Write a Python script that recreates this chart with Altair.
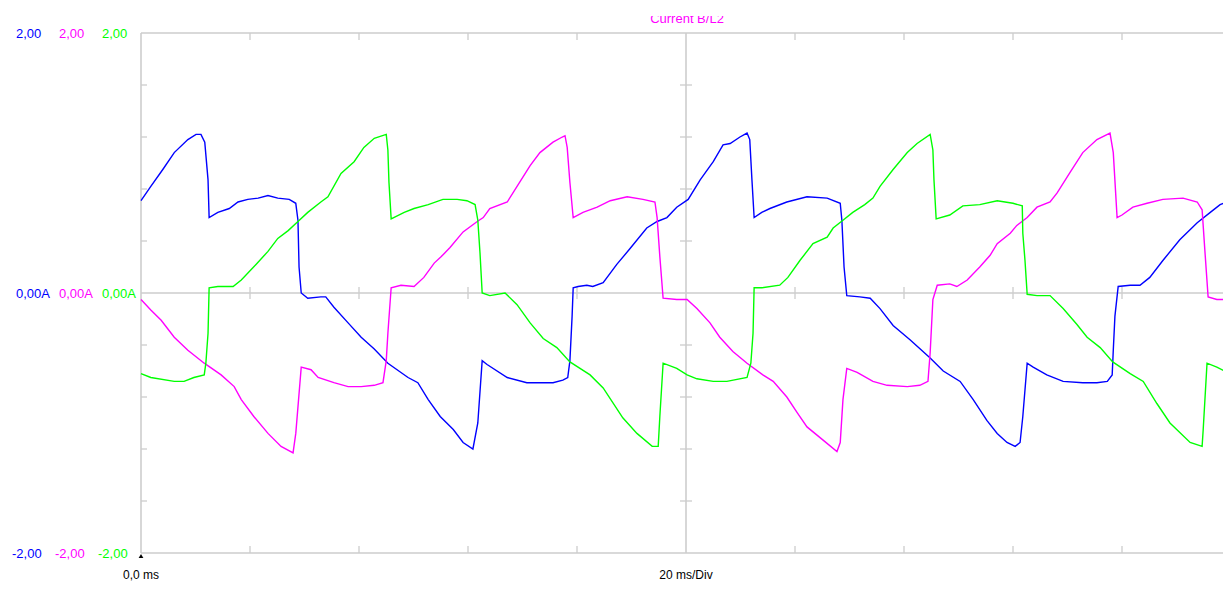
import altair as alt
import pandas as pd

# ---------------- data (time in ms, current in A) ----------------
blue_t = [0.0, 1.8, 4.0, 6.1, 8.6, 10.1, 11.0, 11.7, 12.3, 12.5, 14.1, 16.2, 17.8, 19.6, 21.5, 23.3,
          25.1, 27.2, 28.4, 28.8, 29.0, 29.4, 30.6, 33.0, 33.9, 35.4, 38.0, 40.4, 42.8, 45.3, 49.0,
          50.8, 52.7, 54.9, 57.3, 59.1, 60.9, 61.8, 62.6, 63.5, 67.2, 70.8, 75.6, 77.4, 78.3, 78.7,
          79.1, 79.3, 80.2, 81.8, 82.9, 84.8, 87.3, 89.7, 92.8, 94.7, 96.5, 98.3, 100.4, 102.6,
          105.0, 106.8, 108.1, 109.9, 111.2, 111.7, 112.1, 112.5, 113.9, 115.4, 118.5, 122.2, 125.9,
          128.3, 128.6, 129.0, 129.5, 131.9, 133.8, 135.6, 138.0, 141.1, 144.8, 147.2, 150.3, 152.7,
          155.2, 157.1, 158.9, 160.4, 161.3, 161.8, 162.6, 163.7, 166.2, 169.2, 172.8, 175.4, 177.3,
          178.2, 178.4, 178.7, 179.3, 181.5, 183.3, 185.1, 187.5, 190.6, 193.8, 196.2, 198.0, 199.3]
blue_v = [0.71, 0.82, 0.95, 1.08, 1.18, 1.22, 1.22, 1.16, 0.87, 0.58, 0.62, 0.65, 0.70, 0.72, 0.73, 0.75,
          0.73, 0.72, 0.69, 0.56, 0.20, 0.00, -0.04, -0.03, -0.03, -0.11, -0.23, -0.34, -0.43, -0.54, -0.65,
          -0.69, -0.82, -0.95, -1.05, -1.15, -1.20, -1.00, -0.52, -0.55, -0.65, -0.69, -0.69, -0.67, -0.65, -0.52,
          -0.18, 0.04, 0.05, 0.06, 0.05, 0.08, 0.22, 0.34, 0.50, 0.55, 0.58, 0.66, 0.72, 0.87,
          1.01, 1.14, 1.15, 1.20, 1.23, 1.18, 0.87, 0.58, 0.62, 0.65, 0.70, 0.74, 0.73,
          0.69, 0.56, 0.20, -0.02, -0.03, -0.04, -0.12, -0.25, -0.36, -0.50, -0.60, -0.68, -0.82,
          -0.98, -1.08, -1.15, -1.18, -1.15, -0.95, -0.54, -0.57, -0.63, -0.68, -0.69, -0.69, -0.68,
          -0.63, -0.44, -0.18, 0.05, 0.06, 0.06, 0.12, 0.25, 0.41, 0.54, 0.62, 0.68, 0.70]

magenta_t = [0.0, 1.8, 3.7, 6.1, 8.6, 11.6, 14.7, 17.1, 18.4, 20.7, 23.3, 25.7, 27.9, 28.4, 29.4, 31.2,
             32.5, 35.4, 38.0, 40.4, 42.8, 44.4, 45.0, 45.3, 45.9, 47.7, 50.1, 51.9, 53.8, 55.1, 56.7,
             59.1, 61.7, 62.8, 64.0, 67.2, 69.0, 71.4, 73.2, 75.6, 77.3, 77.8, 78.2, 78.7, 79.3, 81.1,
             83.7, 86.1, 89.2, 92.1, 94.3, 94.7, 95.2, 95.8, 98.3, 100.2, 102.0, 104.4, 106.2, 108.6,
             111.2, 114.1, 116.0, 118.5, 120.4, 122.2, 125.1, 127.7, 128.3, 128.8, 129.5, 131.4, 134.3,
             136.9, 140.6, 142.9, 144.4, 144.8, 145.3, 146.1, 148.4, 149.7, 151.6, 153.9, 155.8, 157.1,
             159.5, 160.7, 162.6, 164.4, 166.8, 168.1, 170.5, 172.8, 175.4, 177.8, 178.4, 179.1, 180.0,
             182.0, 184.6, 187.5, 191.2, 193.8, 194.7, 195.2, 195.8, 197.4, 199.3]
magenta_v = [-0.05, -0.13, -0.21, -0.34, -0.44, -0.54, -0.63, -0.72, -0.82, -0.95, -1.08, -1.18, -1.23, -1.08, -0.57, -0.59,
             -0.65, -0.69, -0.72, -0.72, -0.71, -0.69, -0.52, -0.31, 0.04, 0.06, 0.05, 0.12, 0.23, 0.28, 0.35,
             0.47, 0.55, 0.58, 0.65, 0.70, 0.82, 0.98, 1.08, 1.16, 1.20, 1.21, 1.12, 0.85, 0.58, 0.62,
             0.66, 0.71, 0.74, 0.72, 0.70, 0.58, 0.28, -0.04, -0.05, -0.05, -0.12, -0.23, -0.34, -0.45,
             -0.54, -0.63, -0.68, -0.80, -0.92, -1.03, -1.13, -1.22, -1.15, -0.82, -0.58, -0.61, -0.68,
             -0.71, -0.72, -0.71, -0.68, -0.46, -0.05, 0.06, 0.07, 0.05, 0.10, 0.20, 0.29, 0.38,
             0.46, 0.52, 0.58, 0.66, 0.70, 0.77, 0.93, 1.08, 1.18, 1.23, 1.08, 0.58, 0.60,
             0.66, 0.69, 0.72, 0.73, 0.70, 0.64, 0.33, -0.03, -0.05, -0.05]

green_t = [0.0, 1.8, 6.1, 7.9, 9.7, 11.6, 11.9, 12.3, 12.5, 14.1, 16.2, 16.9, 18.4, 21.1, 23.3, 25.1,
           27.0, 28.8, 30.6, 33.0, 34.3, 36.7, 39.1, 40.9, 42.8, 45.0, 45.3, 45.5, 45.9, 48.3, 50.1,
           52.7, 55.4, 58.0, 59.8, 61.3, 61.8, 62.2, 62.6, 64.0, 66.8, 69.0, 71.4, 73.8, 76.3, 78.7,
           82.4, 84.8, 88.4, 91.0, 93.8, 94.9, 95.2, 95.8, 98.3, 100.2, 102.0, 105.0, 107.5, 111.2,
           111.9, 112.3, 112.5, 113.9, 117.2, 118.7, 120.9, 123.3, 125.9, 127.0, 128.8, 130.6, 132.8,
           134.3, 135.6, 138.0, 140.6, 142.4, 144.8, 145.3, 145.5, 145.9, 148.4, 150.8, 153.9, 157.1,
           160.0, 161.7, 161.8, 162.2, 162.6, 164.4, 166.8, 169.2, 171.7, 173.6, 176.0, 178.3, 181.5,
           183.9, 186.4, 188.8, 192.5, 194.7, 194.9, 195.6, 197.4, 199.3]
green_v = [-0.62, -0.65, -0.68, -0.68, -0.65, -0.63, -0.54, -0.31, 0.04, 0.05, 0.05, 0.05, 0.10, 0.22, 0.32, 0.42,
           0.48, 0.55, 0.62, 0.70, 0.74, 0.92, 1.01, 1.12, 1.19, 1.22, 1.10, 0.85, 0.57, 0.62, 0.65,
           0.68, 0.72, 0.72, 0.71, 0.68, 0.56, 0.31, 0.00, -0.02, 0.00, -0.09, -0.23, -0.35, -0.42, -0.53,
           -0.63, -0.73, -0.96, -1.08, -1.18, -1.18, -0.95, -0.54, -0.58, -0.63, -0.66, -0.68, -0.68, -0.65,
           -0.54, -0.31, 0.04, 0.04, 0.06, 0.12, 0.25, 0.38, 0.43, 0.50, 0.56, 0.62, 0.68,
           0.73, 0.82, 0.95, 1.08, 1.15, 1.22, 1.10, 0.87, 0.57, 0.60, 0.67, 0.68, 0.71,
           0.69, 0.67, 0.46, 0.25, -0.01, -0.02, -0.02, -0.12, -0.24, -0.34, -0.42, -0.53, -0.62,
           -0.68, -0.85, -1.00, -1.15, -1.18, -1.05, -0.54, -0.57, -0.61]

phases = ["Blue", "Magenta", "Green"]
phase_colors = ["#0000ff", "#ff00ff", "#00ff00"]

# grid / frame values
frame_v = [2.0, 0.0, -2.0]            # horizontal frame lines (A)
frame_t = [0.0, 100.0]                # vertical frame lines (ms)
div_t = [20, 40, 60, 80, 120, 140, 160, 180]            # 20 ms/Div
div_v = [-1.6, -1.2, -0.8, -0.4, 0.4, 0.8, 1.2, 1.6]     # 0.4 A/Div

top_labels = ["2,00", "2,00", "2,00"]
mid_labels = ["0,00A", "0,00A", "0,00A"]
bot_labels = ["-2,00", "-2,00", "-2,00"]
title_text = "Current B/L2"
x_left_label = "0,0 ms"
x_div_label = "20 ms/Div"

# ---------------- chart ----------------
FULL_W = 1090      # pixel length of the full 200 ms sweep
W, H = 1082, 520   # visible plot area (the sweep runs to the window edge)
GRID = "#cdcdcd"
FONT = "Liberation Sans"

df = pd.concat([
    pd.DataFrame({"t": blue_t, "v": blue_v, "phase": "Blue"}),
    pd.DataFrame({"t": magenta_t, "v": magenta_v, "phase": "Magenta"}),
    pd.DataFrame({"t": green_t, "v": green_v, "phase": "Green"}),
], ignore_index=True)

xs = alt.Scale(domain=[0, 200], range=[0, FULL_W], nice=False, zero=False)
ys = alt.Scale(domain=[-2, 2], nice=False, zero=False)


def X(field):
    return alt.X(field, type="quantitative", scale=xs, axis=None)


def Y(field):
    return alt.Y(field, type="quantitative", scale=ys, axis=None)


hlines = alt.Chart(pd.DataFrame({"v": frame_v})).mark_rule(color=GRID, strokeWidth=1.6).encode(
    y=Y("v"), x=alt.value(0), x2=alt.value(W))
vlines = alt.Chart(pd.DataFrame({"t": frame_t})).mark_rule(color=GRID, strokeWidth=1.6).encode(
    x=X("t"), y=alt.value(0), y2=alt.value(H))

xt = pd.DataFrame({"t": div_t})
yt = pd.DataFrame({"v": div_v})

zero_ticks = alt.Chart(xt).mark_rule(color=GRID, strokeWidth=1.3).encode(
    x=X("t"), y=alt.value(H / 2 - 6), y2=alt.value(H / 2 + 6))
top_ticks = alt.Chart(xt).mark_rule(color=GRID, strokeWidth=1.3).encode(
    x=X("t"), y=alt.value(0), y2=alt.value(7))
bot_ticks = alt.Chart(xt).mark_rule(color=GRID, strokeWidth=1.3).encode(
    x=X("t"), y=alt.value(H - 7), y2=alt.value(H))
left_ticks = alt.Chart(yt).mark_rule(color=GRID, strokeWidth=1.3).encode(
    y=Y("v"), x=alt.value(0), x2=alt.value(6))
mid_ticks = alt.Chart(yt).mark_rule(color=GRID, strokeWidth=1.3).encode(
    y=Y("v"), x=alt.value(FULL_W / 2 - 6), x2=alt.value(FULL_W / 2 + 6))

lines = alt.Chart(df).mark_line(strokeWidth=1.4).encode(
    x=X("t"), y=Y("v"),
    color=alt.Color("phase:N", scale=alt.Scale(domain=phases, range=phase_colors), legend=None),
)

marker = alt.Chart(pd.DataFrame({"t": [frame_t[0]], "v": [frame_v[2]]})).mark_point(
    shape="triangle-up", filled=True, color="black", size=22, opacity=1, yOffset=3).encode(
    x=X("t"), y=Y("v"))

one = pd.DataFrame({"k": [0]})


def label(txt, px, py, color, align="left", size=13, baseline="middle"):
    return alt.Chart(one).mark_text(text=txt, align=align, baseline=baseline, font=FONT,
                                    fontSize=size, color=color).encode(
        x=alt.value(px), y=alt.value(py))


texts = []
left_x = [-125, -82, -39]
neg_x = [-129, -86, -43]
for i, col in enumerate(phase_colors):
    texts.append(label(top_labels[i], left_x[i], 1, col))
    texts.append(label(mid_labels[i], left_x[i], 261, col))
    texts.append(label(bot_labels[i], neg_x[i], 521, col))
texts.append(label(x_left_label, 0, 546, "black", align="center", size=12, baseline="alphabetic"))
texts.append(label(x_div_label, 545, 546, "black", align="center", size=12, baseline="alphabetic"))
texts.append(label(title_text, 546, -10, "#ff00ff", align="center", size=13, baseline="alphabetic"))

# white band that trims the top of the title, as in the reference capture
title_mask = alt.Chart(one).mark_rect(color="white").encode(
    x=alt.value(480), x2=alt.value(610), y=alt.value(-25), y2=alt.value(-17))

chart = alt.layer(hlines, vlines, zero_ticks, top_ticks, bot_ticks, left_ticks, mid_ticks,
                  lines, marker, *texts, title_mask).properties(
    width=W, height=H,
    autosize=alt.AutoSizeParams(type="none"),
    padding={"left": 133, "top": 25, "right": 0, "bottom": 30},
    background="white",
).configure_view(stroke="transparent")

chart.save("out.html", embed_options={"renderer": "svg", "actions": False})
